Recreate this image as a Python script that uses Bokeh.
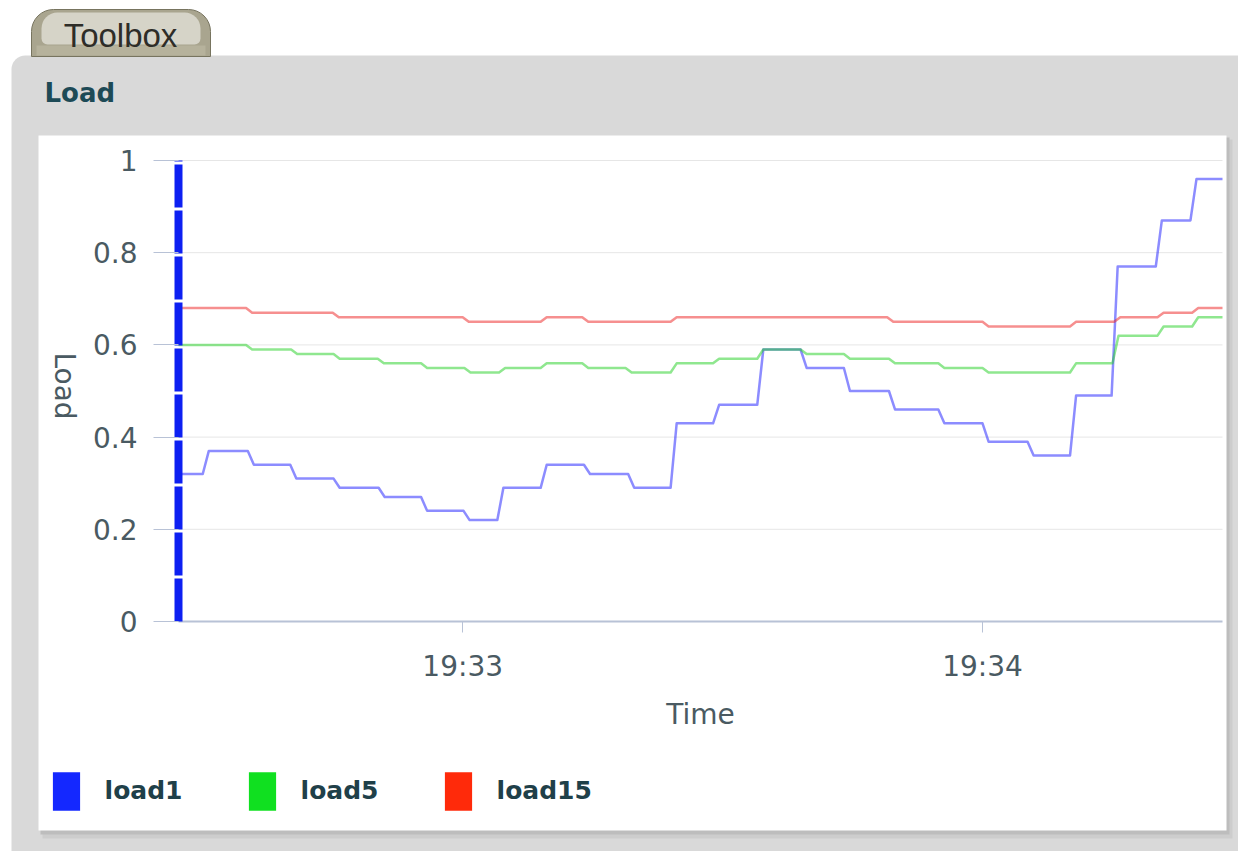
import math
import pandas as pd
from bokeh.plotting import figure
from bokeh.models import (Range1d, FixedTicker, DatetimeTickFormatter, NumeralTickFormatter,
                          BoxAnnotation, Label, Legend, LegendItem, ColumnDataSource)
from bokeh.embed import file_html
from bokeh.resources import INLINE

# ---------------- data ----------------
day = "2009-06-15"
x_tick_labels = ["19:33", "19:34"]
y_ticks = [0, 0.2, 0.4, 0.6, 0.8, 1.0]
series_names = ["load1", "load5", "load15"]

# seconds relative to 19:33:00
x_start_s = -32.8
x_end_s = 87.7

load1_change_s = [-30.0, -24.8, -19.9, -14.9, -9.7, -4.8, 0.1, 4.0, 9.0, 14.0, 19.1, 24.0,
                  28.9, 34.0, 39.0, 44.0, 49.2, 54.9, 60.0, 65.2, 70.1, 74.9, 80.0, 84.0]
load1_levels = [0.32, 0.37, 0.34, 0.31, 0.29, 0.27, 0.24, 0.22, 0.29, 0.34, 0.32, 0.29, 0.43,
                0.47, 0.59, 0.55, 0.50, 0.46, 0.43, 0.39, 0.36, 0.49, 0.77, 0.87, 0.96]

load5_change_s = [-25.0, -19.8, -14.9, -9.8, -4.8, 0.2, 4.2, 9.0, 13.8, 18.8, 24.0, 28.9,
                  34.0, 39.0, 44.0, 49.2, 54.9, 60.0, 70.1, 75.0, 80.2, 84.2]
load5_levels = [0.60, 0.59, 0.58, 0.57, 0.56, 0.55, 0.54, 0.55, 0.56, 0.55, 0.54, 0.56,
                0.57, 0.59, 0.58, 0.57, 0.56, 0.55, 0.54, 0.56, 0.62, 0.64, 0.66]

load15_change_s = [-25.0, -15.0, 0.0, 9.0, 13.8, 24.0, 49.0, 60.0, 70.1, 75.2, 80.2, 84.2]
load15_levels = [0.68, 0.67, 0.66, 0.65, 0.66, 0.65, 0.66, 0.65, 0.64, 0.65, 0.66, 0.67, 0.68]

# ---------------- layout (pixels) ----------------
W, H = 1238, 851
CH_L, CH_R, CH_T, CH_B = 178, 1222, 160, 621   # chart area inside the canvas

base = pd.Timestamp(f"{day} {x_tick_labels[0]}:00")
base_ms = base.value / 1e6


def ms(seconds):
    return base_ms + seconds * 1000.0


RAMP = 0.7  # the samples change over a short interval


def step_path(changes, levels):
    xs = [x_start_s]
    ys = [levels[0]]
    for c, a, b in zip(changes, levels[:-1], levels[1:]):
        xs += [c, c + RAMP]
        ys += [a, b]
    xs.append(x_end_s)
    ys.append(levels[-1])
    return [ms(s) for s in xs], ys


def sx(px):
    return px


def sy(py):
    return H - py


def box(l, t, r, b, color, **kw):
    opts = dict(left=sx(l), right=sx(r), top=sy(t), bottom=sy(b),
                left_units="screen", right_units="screen",
                top_units="screen", bottom_units="screen",
                fill_color=color, fill_alpha=1.0, line_color=None, level="image")
    opts.update(kw)
    return BoxAnnotation(**opts)


# ranges: the frame covers the whole canvas; the data window maps to the chart area
spp = (x_end_s - x_start_s) / (CH_R - CH_L)
ypp = (y_ticks[-1] - y_ticks[0]) / (CH_B - CH_T)
x_range = Range1d(ms(x_start_s - CH_L * spp), ms(x_end_s + (W - CH_R) * spp))
y_range = Range1d(y_ticks[0] - (H - CH_B) * ypp, y_ticks[-1] + CH_T * ypp)

tick_ms = [pd.Timestamp(f"{day} {t}:00").value / 1e6 for t in x_tick_labels]

p = figure(width=W, height=H, x_axis_type="datetime", x_range=x_range, y_range=y_range,
           output_backend="svg", toolbar_location=None, title=None,
           min_border_left=0, min_border_right=0, min_border_top=0, min_border_bottom=0)
p.border_fill_color = "white"
p.background_fill_color = "white"
p.outline_line_color = None
p.xgrid.visible = False
p.ygrid.visible = False

# ---------------- panel decoration (behind everything) ----------------
PANEL = "#d9d9d9"
p.add_layout(box(11, 55, 1260, 880, PANEL, border_radius=(14, 0, 0, 0)))
p.add_layout(box(42, 139, 1232, 838, "#cdcdcd"))
p.add_layout(box(40, 137, 1229, 834, "#bdbdbd"))
p.add_layout(box(38, 135, 1226, 830, "white"))

# tab
p.add_layout(box(31, 9, 210, 56, "#a9a58f", line_color="#77745f", line_alpha=1.0, line_width=1,
                 border_radius=(22, 22, 0, 0)))
p.add_layout(box(41, 12, 200, 44, "#d6d4c8", border_radius=(16, 16, 6, 6)))
p.add_layout(box(36, 45, 205, 55, "#b6b29c"))

p.add_layout(Label(x=sx(120), y=sy(35), x_units="screen", y_units="screen", text="Toolbox",
                   text_align="center", text_baseline="middle",
                   text_font="Liberation Sans", text_font_size="33px", text_color="#2e2d28"))
p.add_layout(Label(x=sx(44), y=sy(92.5), x_units="screen", y_units="screen", text="Load",
                   text_align="left", text_baseline="middle",
                   text_font="DejaVu Sans", text_font_style="bold", text_font_size="26px",
                   text_color="#1d4a56"))

# ---------------- grid lines (at the y ticks, across the time window) ----------------
grid_src = ColumnDataSource(dict(y=y_ticks[1:]))
p.segment(x0=ms(x_start_s), x1=ms(x_end_s), y0="y", y1="y", source=grid_src,
          line_color="#e6e6e6", line_width=1)

# ---------------- series lines ----------------
line_colors = ["#1a1aff", "#20d020", "#ee2020"]
series = [(load1_change_s, load1_levels), (load5_change_s, load5_levels),
          (load15_change_s, load15_levels)]
for name, col, (ch, lv) in zip(series_names, line_colors, series):
    xs, ys = step_path(ch, lv)
    src = ColumnDataSource(dict(x=xs, y=ys))
    p.line("x", "y", source=src, line_color=col, line_alpha=0.5, line_width=2.5,
           line_join="round", name=name)

# ---------------- axes ----------------
TICK_COL = "#4a5a62"
TICK_LINE = "#b8c2d6"

yax = p.yaxis[0]
yax.fixed_location = ms(x_start_s)
yax.bounds = (y_ticks[0], y_ticks[-1])
yax.ticker = FixedTicker(ticks=y_ticks)
yax.formatter = NumeralTickFormatter(format="0.[0]")
yax.axis_line_color = "#0d20f2"
yax.axis_line_width = 8
yax.axis_line_dash = "43 3"
yax.major_tick_out = 25
yax.major_tick_in = 0
yax.major_tick_line_color = TICK_LINE
yax.minor_tick_line_color = None
yax.major_label_standoff = 16
yax.major_label_text_font = "DejaVu Sans"
yax.major_label_text_font_size = "28px"
yax.major_label_text_color = TICK_COL
yax.axis_label = None

# y axis title, reading top to bottom as in the original
p.add_layout(Label(x=sx(64), y=sy(385.5), x_units="screen", y_units="screen", text="Load",
                   angle=-math.pi / 2, text_align="center", text_baseline="middle",
                   text_font="DejaVu Sans", text_font_size="28px", text_color=TICK_COL))

xax = p.xaxis[0]
xax.fixed_location = y_ticks[0]
xax.bounds = (ms(x_start_s), ms(x_end_s))
xax.ticker = FixedTicker(ticks=tick_ms)
fmt = "%H:%M"
xax.formatter = DatetimeTickFormatter(milliseconds=fmt, seconds=fmt, minsec=fmt, minutes=fmt,
                                      hourmin=fmt, hours=fmt, days=fmt, months=fmt, years=fmt)
xax.axis_line_color = TICK_LINE
xax.axis_line_width = 2
xax.major_tick_out = 11
xax.major_tick_in = 0
xax.major_tick_line_color = TICK_LINE
xax.minor_tick_line_color = None
xax.major_label_standoff = 17
xax.major_label_text_font = "DejaVu Sans"
xax.major_label_text_font_size = "28px"
xax.major_label_text_color = TICK_COL
xax.axis_label = "Time"
xax.axis_label_text_font = "DejaVu Sans"
xax.axis_label_text_font_size = "28px"
xax.axis_label_text_font_style = "normal"
xax.axis_label_text_color = TICK_COL
xax.axis_label_standoff = 12

# ---------------- legend ----------------
swatch_colors = ["#1428ff", "#10e020", "#ff2a0a"]
items = []
for name, col in zip(series_names, swatch_colors):
    # zero-size proxy: only its colour is shown, as the legend swatch
    r = p.quad(left=[ms(x_start_s)], right=[ms(x_start_s)], top=[y_ticks[0]],
               bottom=[y_ticks[0]], fill_color=col, line_color=None)
    items.append(LegendItem(label=name, renderers=[r]))
legend = Legend(items=items, orientation="horizontal", location=(sx(48.6), sy(814.8)),
                glyph_width=34, glyph_height=48, label_standoff=22, label_width=140,
                spacing=0, padding=0, margin=0,
                background_fill_alpha=0, border_line_alpha=0,
                label_text_font="DejaVu Sans", label_text_font_style="bold",
                label_text_font_size="25px", label_text_color="#1f4049")
p.add_layout(legend)

open("out.html", "w").write(file_html(p, INLINE))
